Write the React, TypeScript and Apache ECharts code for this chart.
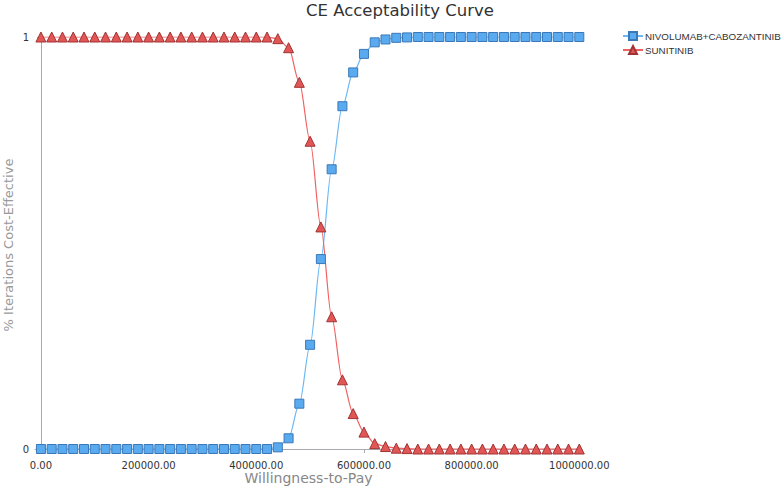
import React, { useEffect, useRef } from "react";
import * as echarts from "echarts";

const wtp: number[] = [];
for (let k = 0; k <= 50; k++) wtp.push(k * 20000);

const nivoCabo = [
  0, 0, 0, 0, 0, 0, 0, 0, 0, 0,
  0, 0, 0, 0, 0, 0, 0, 0, 0, 0,
  0, 0, 0.004, 0.026, 0.11, 0.253, 0.461, 0.679, 0.832, 0.914,
  0.959, 0.987, 0.994, 0.998, 0.999, 1, 1, 1, 1, 1,
  1, 1, 1, 1, 1, 1, 1, 1, 1, 1, 1,
];
const sunitinib = [
  1, 1, 1, 1, 1, 1, 1, 1, 1, 1,
  1, 1, 1, 1, 1, 1, 1, 1, 1, 1,
  1, 1, 0.996, 0.974, 0.89, 0.747, 0.539, 0.321, 0.168, 0.086,
  0.041, 0.013, 0.006, 0.002, 0.001, 0, 0, 0, 0, 0,
  0, 0, 0, 0, 0, 0, 0, 0, 0, 0, 0,
];
const xTicks = [0, 200000, 400000, 600000, 800000, 1000000];
const yTicks = [0, 1];
const seriesNames = ["NIVOLUMAB+CABOZANTINIB", "SUNITINIB"];

const FONT = "DejaVu Sans";

export default function App() {
  const ref = useRef<HTMLDivElement>(null);
  useEffect(() => {
    if (!ref.current) return;
    const chart = echarts.init(ref.current, undefined, { renderer: "svg" });
    chart.setOption({
      animation: false,
      backgroundColor: "#ffffff",
      textStyle: { fontFamily: FONT },
      title: {
        text: "CE Acceptability Curve",
        left: 301,
        top: -3,
        textStyle: { fontFamily: FONT, fontSize: 16.5, fontWeight: "normal", color: "#333" },
      },
      legend: {
        orient: "vertical",
        left: 617,
        top: 26,
        itemWidth: 20,
        itemHeight: 10,
        itemGap: 4,
        data: seriesNames,
        textStyle: { fontFamily: "Liberation Sans", fontSize: 9.8, color: "#333", padding: [0, 0, 0, -3] },
      },
      grid: { left: 35, right: 200, top: 37, bottom: 35, containLabel: false, outerBoundsMode: "none" },
      xAxis: {
        type: "value",
        min: -11000,
        max: 1005000,
        name: "Willingness-to-Pay",
        nameLocation: "middle",
        nameGap: 18,
        nameMoveOverlap: false,
        nameTextStyle: { fontFamily: FONT, fontSize: 14, color: "#888" },
        axisLine: { show: true, lineStyle: { color: "#a8a8b0", width: 1 } },
        axisTick: { show: true, customValues: xTicks, length: 4, lineStyle: { color: "#a8a8b0" } },
        axisLabel: {
          customValues: xTicks,
          formatter: (v: number) => v.toFixed(2),
          fontFamily: FONT,
          fontSize: 10,
          color: "#333",
          margin: 7,
        },
        splitLine: { show: false },
      },
      yAxis: {
        type: "value",
        min: -0.0097,
        max: 1,
        name: "% Iterations Cost-Effective",
        nameLocation: "middle",
        nameGap: 20,
        nameMoveOverlap: false,
        nameTextStyle: { fontFamily: FONT, fontSize: 13, color: "#999" },
        axisLine: { show: true, lineStyle: { color: "#a8a8b0", width: 1 } },
        axisTick: { show: true, customValues: yTicks, length: 4, lineStyle: { color: "#a8a8b0" } },
        axisLabel: {
          customValues: yTicks,
          formatter: (v: number) => String(v),
          fontFamily: FONT,
          fontSize: 10,
          color: "#333",
          margin: 6,
        },
        splitLine: { show: false },
      },
      series: [
        {
          name: seriesNames[0],
          type: "line",
          data: wtp.map((x, i) => [x, nivoCabo[i]]),
          symbol: "rect",
          symbolSize: 9,
          smooth: 0.3,
          smoothMonotone: "x",
          lineStyle: { color: "#6cb8f2", width: 1.2 },
          itemStyle: { color: "#5aaaf0", borderColor: "#3b78b8", borderWidth: 1 },
        },
        {
          name: seriesNames[1],
          type: "line",
          data: wtp.map((x, i) => [x, sunitinib[i]]),
          symbol: "triangle",
          symbolSize: 10,
          smooth: 0.3,
          smoothMonotone: "x",
          lineStyle: { color: "#f06262", width: 1.2 },
          itemStyle: { color: "#e25656", borderColor: "#a03434", borderWidth: 1 },
        },
      ],
    });
    return () => chart.dispose();
  }, []);
  return (
    <div
      ref={ref}
      style={{ position: "fixed", left: 0, top: 0, width: 782, height: 488 }}
    />
  );
}
